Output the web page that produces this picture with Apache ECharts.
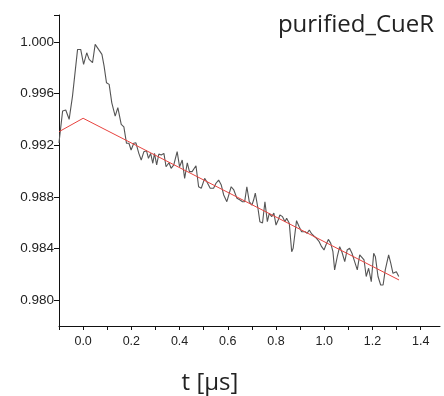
<!DOCTYPE html>
<html>
<head>
<meta charset="utf-8">
<script src="https://cdn.jsdelivr.net/npm/echarts@6/dist/echarts.min.js"></script>
<style>html,body{margin:0;padding:0;background:#fff}#c{width:444px;height:396px}</style>
</head>
<body>
<div id="c"></div>
<script>
// Measured trace (time in µs, normalized signal)
var tData = [-0.100,-0.097,-0.085,-0.072,-0.058,-0.044,-0.023,-0.010,0.002,0.015,0.025,0.039,0.050,0.064,0.078,0.087,0.097,0.108,0.119,0.133,0.144,0.158,0.169,0.180,0.190,0.199,0.210,0.219,0.231,0.241,0.252,0.263,0.271,0.280,0.289,0.296,0.305,0.314,0.324,0.335,0.344,0.356,0.365,0.376,0.390,0.400,0.411,0.421,0.432,0.441,0.452,0.468,0.479,0.490,0.504,0.513,0.527,0.541,0.551,0.562,0.573,0.583,0.596,0.606,0.614,0.625,0.638,0.651,0.661,0.670,0.679,0.689,0.700,0.707,0.714,0.725,0.733,0.744,0.754,0.764,0.772,0.782,0.791,0.800,0.809,0.816,0.827,0.837,0.844,0.855,0.865,0.871,0.885,0.896,0.906,0.920,0.929,0.938,0.948,0.957,0.968,0.979,0.989,0.999,1.007,1.017,1.027,1.036,1.043,1.054,1.064,1.073,1.085,1.095,1.105,1.115,1.126,1.137,1.147,1.154,1.165,1.174,1.184,1.195,1.205,1.212,1.223,1.234,1.244,1.253,1.267,1.276,1.285,1.292,1.299,1.309];
var signal = [0.99217,0.99271,0.99465,0.99473,0.99401,0.99581,0.99943,0.99943,0.99827,0.99917,0.99866,0.99840,0.99982,0.99943,0.99905,0.99814,0.99684,0.99672,0.99529,0.99426,0.99491,0.99362,0.99343,0.99215,0.99215,0.99163,0.99215,0.99219,0.99137,0.99085,0.99150,0.99157,0.99098,0.99137,0.99060,0.99137,0.99047,0.99132,0.99124,0.99137,0.99033,0.99064,0.99021,0.99047,0.99150,0.99033,0.99085,0.98943,0.99064,0.98995,0.98995,0.99041,0.98878,0.98866,0.98943,0.98917,0.98866,0.98866,0.98905,0.98930,0.98891,0.98814,0.98762,0.98827,0.98878,0.98853,0.98788,0.98775,0.98762,0.98762,0.98878,0.98762,0.98736,0.98775,0.98829,0.98711,0.98607,0.98597,0.98762,0.98607,0.98672,0.98646,0.98674,0.98581,0.98620,0.98659,0.98646,0.98607,0.98633,0.98594,0.98374,0.98401,0.98615,0.98568,0.98529,0.98529,0.98517,0.98543,0.98512,0.98496,0.98478,0.98452,0.98413,0.98388,0.98426,0.98470,0.98439,0.98374,0.98233,0.98336,0.98413,0.98374,0.98297,0.98388,0.98401,0.98362,0.98297,0.98233,0.98349,0.98336,0.98310,0.98182,0.98246,0.98142,0.98362,0.98336,0.98182,0.98116,0.98116,0.98233,0.98349,0.98284,0.98207,0.98207,0.98219,0.98181];
// Fit line
var fitT = [-0.1, 0.0, 1.31];
var fitY = [0.99305, 0.99409, 0.98155];
// Axis ticks
var xLabels = [0.0, 0.2, 0.4, 0.6, 0.8, 1.0, 1.2, 1.4];
var xTicks = [-0.1, 0.0, 0.1, 0.2, 0.3, 0.4, 0.5, 0.6, 0.7, 0.8, 0.9, 1.0, 1.1, 1.2, 1.3, 1.4];
var yLabels = [0.980, 0.984, 0.988, 0.992, 0.996, 1.000];
var yTicks = [0.980, 0.984, 0.988, 0.992, 0.996, 1.000, 1.0021];
var titleText = 'purified_CueR';
var xName = 't [µs]';

var chart = echarts.init(document.getElementById('c'), null, {renderer: 'canvas'});
var sig = tData.map(function (t, i) { return [t, signal[i]]; });
var fit = fitT.map(function (t, i) { return [t, fitY[i]]; });
var font = 'Liberation Sans, Arial, sans-serif';
chart.setOption({
  animation: false,
  backgroundColor: '#fff',
  grid: {left: 59, right: 4, top: 15, bottom: 70, outerBoundsMode: 'none'},
  xAxis: {
    type: 'value', min: -0.1, max: 1.48,
    axisLine: {show: true, onZero: false, lineStyle: {color: '#111', width: 1}},
    axisTick: {show: true, length: 4, customValues: xTicks, lineStyle: {color: '#111'}},
    axisLabel: {customValues: xLabels, margin: 9, color: '#222', fontFamily: font, fontSize: 12.5, formatter: function (v) { return v.toFixed(1); }},
    splitLine: {show: false}
  },
  yAxis: {
    type: 'value', min: 0.97798, max: 1.0021,
    axisLine: {show: true, onZero: false, lineStyle: {color: '#111', width: 1}},
    axisTick: {show: true, length: 5, customValues: yTicks, lineStyle: {color: '#111'}},
    axisLabel: {customValues: yLabels, margin: 5, color: '#222', fontFamily: font, fontSize: 13.5, formatter: function (v) { return v.toFixed(3); }},
    splitLine: {show: false}
  },
  graphic: [
    {type: 'text', x: 356, y: 25, style: {text: titleText, textAlign: 'center', textVerticalAlign: 'middle', font: '24px "Open Sans", sans-serif', fill: '#222'}},
    {type: 'text', x: 210, y: 383, style: {text: xName, textAlign: 'center', textVerticalAlign: 'middle', font: '24px "Open Sans", sans-serif', fill: '#222'}}
  ],
  series: [
    {type: 'line', data: sig, symbol: 'none', lineStyle: {color: '#555', width: 1.1}, z: 2},
    {type: 'line', data: fit, symbol: 'none', lineStyle: {color: '#e8433f', width: 1}, z: 3}
  ]
});
</script>
</body>
</html>
